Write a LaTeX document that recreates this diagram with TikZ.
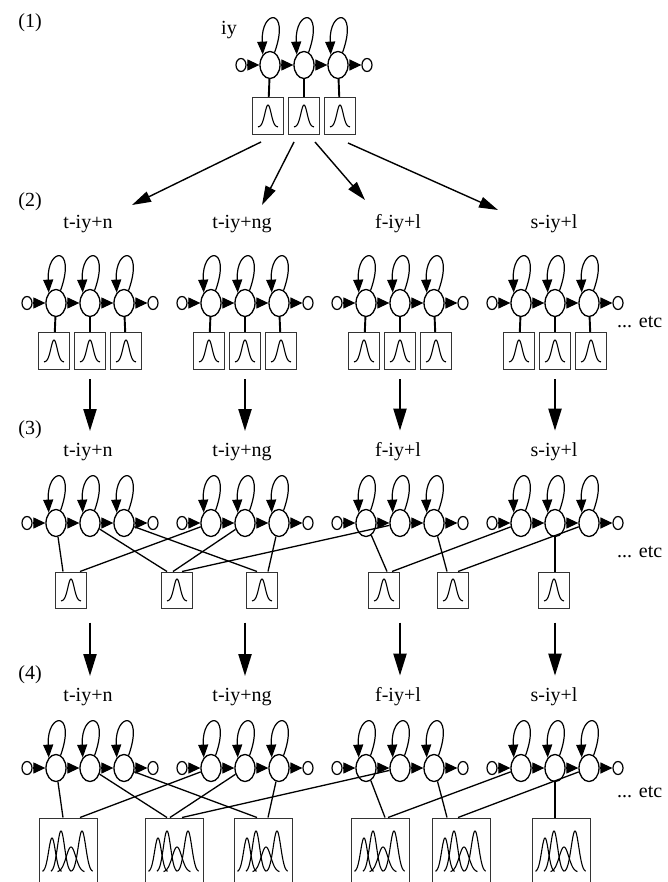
\documentclass[tikz,border=0pt]{standalone}
\usepackage{fontspec}
\setmainfont{Liberation Serif}
\usetikzlibrary{arrows.meta,shapes.geometric,calc}

\begin{document}
\begin{tikzpicture}[x=1pt, y=-1pt,
    state/.style={draw, ellipse, line width=1.3pt, minimum width=20pt, minimum height=27pt, inner sep=0pt},
    term/.style={draw, ellipse, line width=1.2pt, minimum width=10pt, minimum height=13pt, inner sep=0pt},
    trans/.style={-{Triangle[length=12pt,width=11pt]}, line width=1.2pt},
    selfloop/.style={-{Triangle[length=13pt,width=10pt]}, line width=1.2pt},
    gbox/.style={draw=black!80, line width=1pt, minimum width=31pt, minimum height=37pt, inner sep=0pt},
    mbox/.style={draw=black!80, line width=1pt, minimum width=58pt, minimum height=82pt, inner sep=0pt},
    bell/.style={line width=1.1pt},
    link/.style={line width=1.9pt},
    tie/.style={line width=1.3pt},
    lbl/.style={font=\fontsize{20}{24}\selectfont, inner sep=0pt},
    fanout/.style={-{Triangle[length=19pt,width=11pt]}, line width=1.4pt},
    nextrow/.style={-{Triangle[length=22pt,width=13pt]}, line width=2.2pt}]
    \useasboundingbox (0,0) rectangle (667,882);
    \clip (0,0) rectangle (667,882);

    % row labels
    \node[lbl] (n1) at (30,23) {(1)};
    \node[lbl] (n2) at (30,202) {(2)};
    \node[lbl] (n3) at (30,430) {(3)};
    \node[lbl] (n4) at (30,675) {(4)};
    \node[lbl] (iy) at (229,30) {iy};
    \foreach \r/\y in {2/224, 3/452, 4/697}
        \foreach \g/\x/\t in {a/88/t-iy+n, b/242/t-iy+ng, c/398/f-iy+l, d/554/s-iy+l}
            \node[lbl] (l\r\g) at (\x,\y) {\t};
    \foreach \r/\y in {2/322, 3/552, 4/792}
        \node[lbl, anchor=west] (etc\r) at (617,\y) {... etc};

    % three-state models
    \foreach \n/\x/\y in {1a/304/65, 2a/90/303, 2b/245/303, 2c/400/303, 2d/555/303,
                          3a/90/523, 3b/245/523, 3c/400/523, 3d/555/523,
                          4a/90/768, 4b/245/768, 4c/400/768, 4d/555/768} {
        \node[term] (h\n0) at (\x-63,\y) {};
        \node[state] (h\n1) at (\x-34,\y) {};
        \node[state] (h\n2) at (\x,\y) {};
        \node[state] (h\n3) at (\x+34,\y) {};
        \node[term] (h\n4) at (\x+63,\y) {};
        \foreach \i [count=\j] in {0,...,3}
            \draw[trans] (h\n\i) -- (h\n\j);
        \foreach \k in {1,2,3}
            \draw[selfloop] (h\n\k.70) .. controls +(16,-45) and +(-2,-46) .. (h\n\k.125);
    }

    % one density per state
    \foreach \n/\x/\y in {1a/304/116, 2a/90/351, 2b/245/351, 2c/400/351, 2d/555/351}
        \foreach \k/\d in {1/-36, 2/0, 3/36} {
            \node[gbox] (b\n\k) at (\x+\d,\y) {};
            \draw[bell, shift={(b\n\k)}] plot[variable=\t, domain=-10:10, samples=41]
                (\t, {11-22*exp(-(\t)*(\t)/20)});
            \draw[link] (h\n\k) -- (b\n\k);
        }

    % tied single densities
    \foreach \b/\x in {A/71, B/177, C/262, D/384, E/453, F/554} {
        \node[gbox, minimum height=36pt] (c\b) at (\x,590) {};
        \draw[bell, shift={(c\b)}] plot[variable=\t, domain=-10:10, samples=41]
            (\t, {11-22*exp(-(\t)*(\t)/20)});
    }
    \foreach \s/\b/\d in {a1/A/-8, b1/A/9, a2/B/-10, b2/B/-4, c2/B/5, a3/C/-5,
                          b3/C/6, c1/D/3, d1/D/8, c3/E/-6, d3/E/5}
        \draw[tie] (h3\s) -- ($(c\b.north)+(\d,0)$);
    \draw[link] (h3d2) -- (h3d2 |- cF.north);

    % tied mixtures
    \foreach \b/\x in {A/68, B/174, C/263, D/380, E/461, F/561} {
        \node[mbox] (m\b) at (\x,859) {};
        \foreach \c/\h/\w in {-16/34/3.4, -7/41/3.6, 3/25/4.8, 14/41/3.8} {
            \pgfmathsetmacro\lo{\c-2.8*\w}
            \pgfmathsetmacro\hi{\c+2.8*\w}
            \draw[bell, shift={(m\b)}] plot[variable=\t, domain=\lo:\hi, samples=41]
                (\t, {13-\h*exp(-(\t-\c)*(\t-\c)/(2*\w*\w))});
        }
    }
    \foreach \s/\b/\d in {a1/A/-5, b1/A/12, a2/B/-7, b2/B/-4, c2/B/8, a3/C/-6,
                          b3/C/5, c1/D/5, d1/D/8, c3/E/-14, d3/E/-3}
        \draw[tie] (h4\s) -- ($(m\b.north)+(\d,0)$);
    \draw[link] (h4d2) -- (h4d2 |- mF.north);

    % arrows between levels
    \draw[fanout] ($(b1a1.south)+(-7,7)$) -- ($(l2a)+(44,-19)$);
    \draw[fanout] ($(b1a2.south)+(-10,7)$) -- ($(l2b)+(20,-19)$);
    \draw[fanout] ($(b1a2.south)+(11,7)$) -- ($(l2c)+(-33,-24)$);
    \draw[fanout] ($(b1a3.south)+(8,8)$) -- ($(l2d)+(-56,-14)$);
    \foreach \g in {a,b,c,d} {
        \draw[nextrow] ($(b2\g2.south)+(0,9)$) -- ($(b2\g2.south |- l3\g.north)+(0,-12)$);
        \draw[nextrow] ($(h3\g2 |- cA.south)+(0,14)$) -- ($(h3\g2 |- l4\g.north)+(0,-12)$);
    }
\end{tikzpicture}
\end{document}
